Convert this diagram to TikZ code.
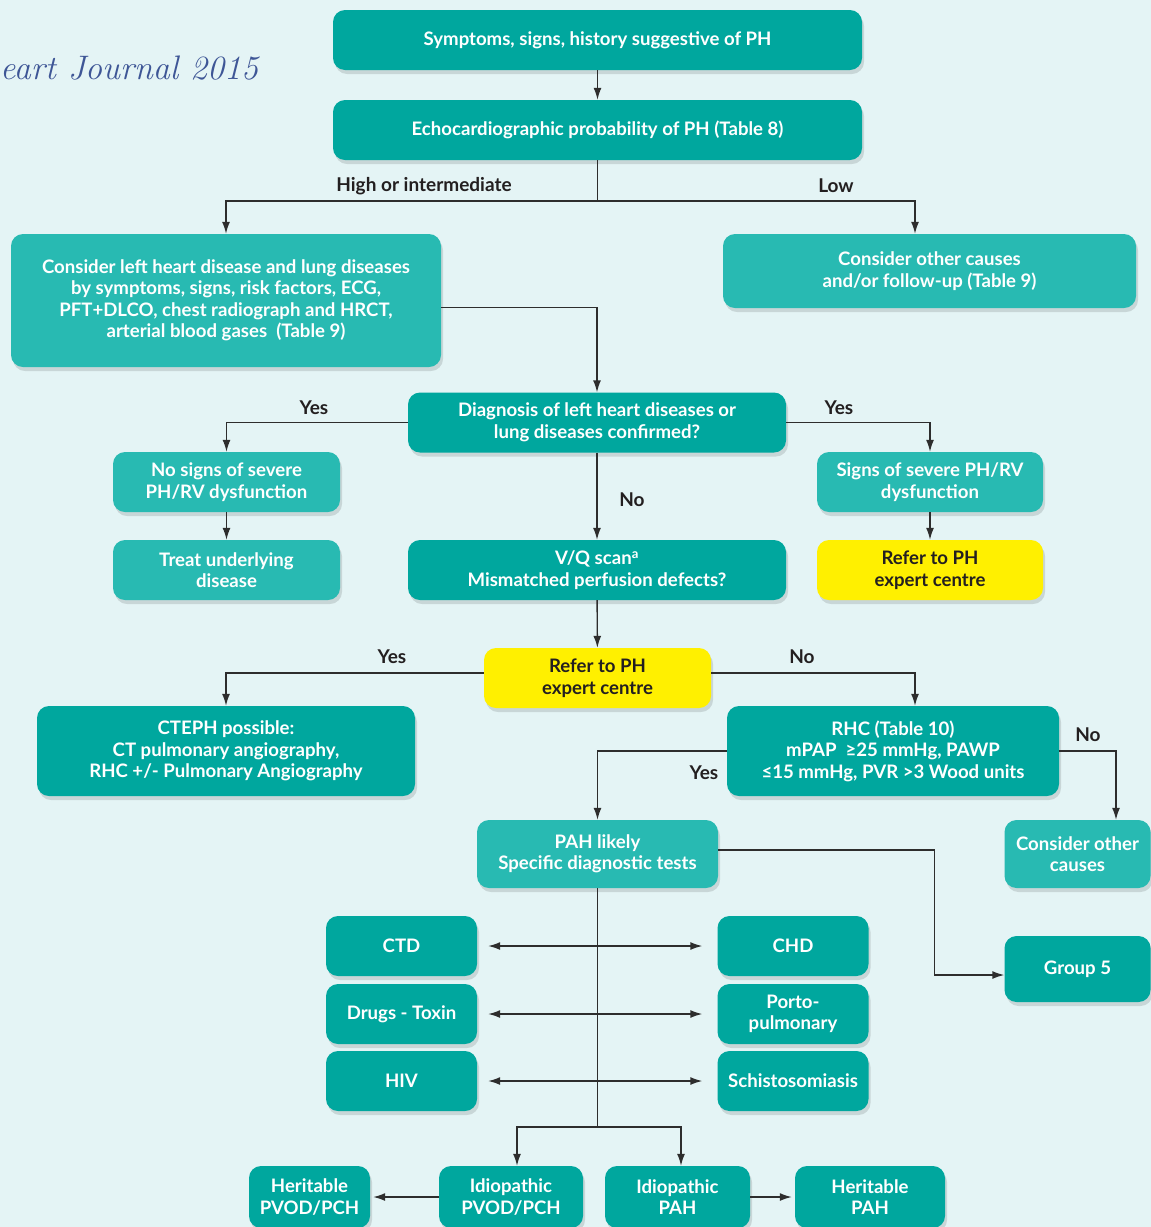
\documentclass[tikz,border=0pt]{standalone}
\usepackage{fontspec}
\setmainfont{Lato}
\usetikzlibrary{arrows.meta,shadows,calc}
\definecolor{bgC}{RGB}{228,244,245}
\definecolor{tealD}{RGB}{0,167,158}
\definecolor{tealL}{RGB}{40,186,178}
\definecolor{yel}{RGB}{255,240,0}
\definecolor{txt}{RGB}{35,31,32}
\definecolor{lineC}{RGB}{45,45,45}
\definecolor{jrn}{RGB}{62,86,150}
\newcommand\bxfont{\fontsize{18.6}{21.5}\selectfont\bfseries}
\newcommand\lbfont{\fontsize{19}{21}\selectfont\bfseries}
\tikzset{
  box/.style={rounded corners=12pt, minimum height=60pt, inner sep=2pt, align=center,
    font=\bxfont, text=white,
    drop shadow={shadow xshift=2pt, shadow yshift=-4pt, opacity=0.12, fill=black}},
  dk/.style={box, fill=tealD},
  lt/.style={box, fill=tealL},
  yl/.style={box, fill=yel, text=txt},
  arr/.style={draw=lineC, line width=1.4pt, -{Latex[length=12pt,width=8pt]}},
  darr/.style={draw=lineC, line width=1.4pt, {Latex[length=12pt,width=8pt]}-{Latex[length=12pt,width=8pt]}},
  ln/.style={draw=lineC, line width=1.4pt},
  lbl/.style={font=\lbfont, text=txt, inner sep=0pt}
}
\begin{document}
\begin{tikzpicture}[x=1pt,y=-1pt]
\useasboundingbox (0,0) rectangle (1151,1227);
\fill[bgC] (0,0) rectangle (1151,1227);
\clip (0,0) rectangle (1151,1227);

\node[anchor=west, inner sep=0pt, text=jrn, font=\fontspec{Latin Modern Roman}\itshape\fontsize{34}{36}\selectfont] (jr) at (0,68) {eart Journal 2015};

% boxes
\node[dk, minimum width=529pt] (sym) at (597.5,40) {Symptoms, signs, history suggestive of PH};
\node[dk, minimum width=529pt] (echo) at (597.5,130) {Echocardiographic probability of PH (Table 8)};
\node[lt, minimum width=430pt, minimum height=133pt] (lhd) at (226,300.5) {Consider left heart disease and lung diseases\\by symptoms, signs, risk factors, ECG,\\PFT+DLCO, chest radiograph and HRCT,\\arterial blood gases\ \ (Table 9)};
\node[lt, minimum width=413pt, minimum height=74pt] (oth) at (929.5,271) {Consider other causes\\and/or follow-up (Table 9)};
\node[dk, minimum width=378pt] (diag) at (597,422.5) {Diagnosis of left heart diseases or\\lung diseases confirmed?};
\node[lt, minimum width=227pt] (nos) at (226.5,482) {No signs of severe\\PH/RV dysfunction};
\node[lt, minimum width=227pt] (treat) at (226.5,570) {Treat underlying\\disease};
\node[lt, minimum width=226pt] (sev) at (930,482) {Signs of severe PH/RV\\dysfunction};
\node[yl, minimum width=226pt] (ref1) at (930,570) {Refer to PH\\expert centre};
\node[dk, minimum width=378pt] (vq) at (597,570) {V/Q scan\textsuperscript{a}\\Mismatched perfusion defects?};
\node[yl, minimum width=227pt] (ref2) at (597.5,678) {Refer to PH\\expert centre};
\node[dk, minimum width=378pt, minimum height=90pt] (ctep) at (226,751) {CTEPH possible:\\CT pulmonary angiography,\\RHC +/- Pulmonary Angiography};
\node[dk, minimum width=332pt, minimum height=90pt] (rhc) at (893,751) {RHC (Table 10)\\mPAP\ \ ≥25 mmHg, PAWP\\≤15 mmHg, PVR >3 Wood units};
\node[lt, minimum width=241pt, minimum height=68pt] (pah) at (597.5,854) {PAH likely\\Specific diagnostic tests};
\node[lt, minimum width=146pt, minimum height=68pt] (oc2) at (1077.5,854) {Consider other\\causes};
\node[dk, minimum width=146pt, minimum height=66pt] (g5) at (1077.5,969) {Group 5};

\node[dk, minimum width=151pt] (ctd) at (401.5,946) {CTD};
\node[dk, minimum width=151pt] (chd) at (793,946) {CHD};
\node[dk, minimum width=151pt] (drug) at (401.5,1014) {Drugs - Toxin};
\node[dk, minimum width=151pt] (porto) at (793,1014) {Porto-\\pulmonary};
\node[dk, minimum width=151pt] (hiv) at (401.5,1081) {HIV};
\node[dk, minimum width=151pt] (schi) at (793,1081) {Schistosomiasis};

\node[dk, minimum width=121pt, minimum height=62pt] (hpv) at (309.5,1197) {Heritable\\PVOD/PCH};
\node[dk, minimum width=144pt, minimum height=62pt] (ipv) at (511,1197) {Idiopathic\\PVOD/PCH};
\node[dk, minimum width=145pt, minimum height=62pt] (ipah) at (677.5,1197) {Idiopathic\\PAH};
\node[dk, minimum width=150pt, minimum height=62pt] (hpah) at (870,1197) {Heritable\\PAH};

% connectors
\coordinate (j1) at (597.5,201);
\coordinate (j2) at (597.5,1127);
\draw[arr] (sym) -- (echo);
\draw[ln] (echo.south) -- (j1);
\draw[arr] (j1) -| (lhd.north);
\draw[arr] (j1) -| ([xshift=-14.5pt]oth.north);
\draw[arr] ([yshift=-7pt]lhd.east) -| (diag.north);
\draw[arr] (diag.west) -| (nos.north);
\draw[arr] (diag.east) -| (sev.north);
\draw[arr] (nos) -- (treat);
\draw[arr] (sev) -- (ref1);
\draw[arr] (diag) -- (vq);
\draw[arr] (vq) -- (ref2);
\draw[arr] ([yshift=5pt]ref2.west) -| (ctep.north);
\draw[arr] ([yshift=5pt]ref2.east) -| ([xshift=22pt]rhc.north);
\draw[arr] (rhc.west) -| (pah.north);
\draw[arr] (rhc.east) -| ([xshift=38.5pt]oc2.north);
\draw[arr] ([yshift=4pt]pah.east) -- ++(216,0) |- ([yshift=-6pt]g5.west);
\draw[ln] (pah.south) -- (j2);
\draw[arr] (j2) -| ([xshift=6pt]ipv.north);
\draw[arr] (j2) -| ([xshift=3.5pt]ipah.north);
\draw[darr, shorten <=11pt, shorten >=15pt] (ctd.east) -- (chd.west);
\draw[darr, shorten <=11pt, shorten >=15pt] (drug.east) -- (porto.west);
\draw[darr, shorten <=11pt, shorten >=15pt] (hiv.east) -- (schi.west);
\draw[arr] (ipv.west) -- ([xshift=3pt]hpv.east);
\draw[arr] (ipah.east) -- ([xshift=-3pt]hpah.west);

% labels
\node[lbl] (l1) at (424,186) {High or intermediate};
\node[lbl] (l2) at (836,186) {Low};
\node[lbl] (l3) at (314,408) {Yes};
\node[lbl] (l4) at (839,408) {Yes};
\node[lbl] (l5) at (632,500) {No};
\node[lbl] (l6) at (392,657) {Yes};
\node[lbl] (l7) at (802,657) {No};
\node[lbl] (l8) at (704,773) {Yes};
\node[lbl] (l9) at (1088,735) {No};
\end{tikzpicture}
\end{document}
